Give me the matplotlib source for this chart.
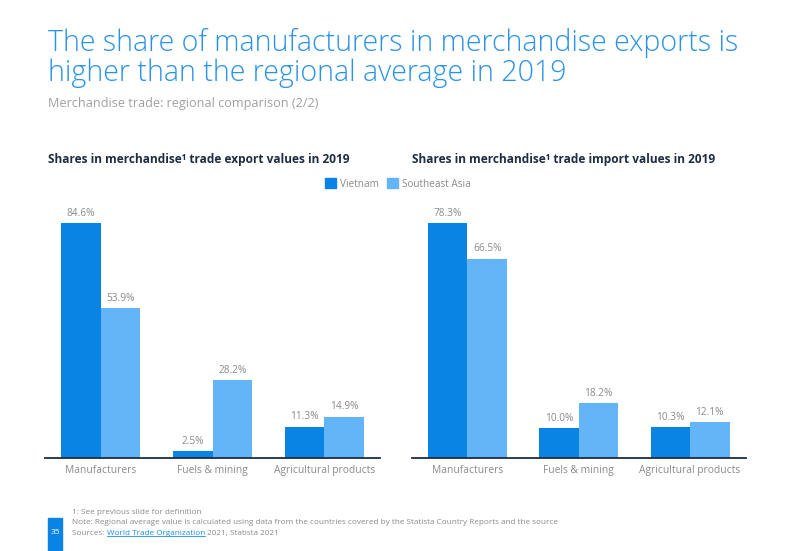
import numpy as np
import matplotlib.pyplot as plt
from matplotlib.patches import Rectangle
from matplotlib.lines import Line2D

plt.rcParams['font.family'] = ['Open Sans', 'DejaVu Sans']

categories = ['Manufacturers', 'Fuels & mining', 'Agricultural products']
export_vietnam = [84.6, 2.5, 11.3]
export_sea = [53.9, 28.2, 14.9]
import_vietnam = [78.3, 10.0, 10.3]
import_sea = [66.5, 18.2, 12.1]

c_vn = '#0a84e4'
c_sea = '#64b5f7'
gray = '#8a8a8a'
navy = '#1d2d44'

fig = plt.figure(figsize=(7.95, 5.51), dpi=100)

def panel(rect, vn, sea):
    ax = fig.add_axes(rect)
    x = np.arange(len(categories))
    w = 0.355
    b1 = ax.bar(x - w / 2, vn, w, color=c_vn)
    b2 = ax.bar(x + w / 2, sea, w, color=c_sea)
    for bars, vals in [(b1, vn), (b2, sea)]:
        for b, v in zip(bars, vals):
            ax.annotate('%.1f%%' % v, (b.get_x() + b.get_width() / 2, v),
                        xytext=(0, 3), textcoords='offset points',
                        ha='center', va='bottom', fontsize=7.3, color=gray)
    ax.set_xlim(-0.5, 2.5)
    ax.set_ylim(0, max(vn) * 1.077)
    ax.set_xticks(x)
    ax.set_xticklabels(categories, fontsize=7.4, color=gray)
    ax.tick_params(length=0, pad=5)
    ax.set_yticks([])
    for s in ['top', 'right', 'left']:
        ax.spines[s].set_visible(False)
    ax.spines['bottom'].set_color(navy)
    ax.spines['bottom'].set_linewidth(1.3)
    return ax

panel([0.0566, 0.1688, 0.4214, 0.459], export_vietnam, export_sea)
panel([0.518, 0.1688, 0.420, 0.459], import_vietnam, import_sea)

# title block
fig.text(0.060, 0.950, 'The share of manufacturers in merchandise exports is\nhigher than the regional average in 2019',
         fontsize=20.6, color='#2a92ea', va='top', ha='left', fontweight='light', linespacing=1.05)
fig.text(0.060, 0.812, 'Merchandise trade: regional comparison (2/2)', fontsize=9.1, color='#a0a0a0', va='center')

fig.text(0.060, 0.710, 'Shares in merchandise\u00b9 trade export values in 2019', fontsize=8.6, color=navy,
         fontweight='bold', va='center')
fig.text(0.518, 0.710, 'Shares in merchandise\u00b9 trade import values in 2019', fontsize=8.6, color=navy,
         fontweight='bold', va='center')

# legend
fig.legend(handles=[Rectangle((0, 0), 1, 1, color=c_vn), Rectangle((0, 0), 1, 1, color=c_sea)],
           labels=['Vietnam', 'Southeast Asia'], loc='center', bbox_to_anchor=(0.500, 0.666),
           ncol=2, frameon=False, fontsize=7.2, labelcolor=gray, handlelength=1.1, handleheight=1.1,
           handletextpad=0.4, columnspacing=0.8)

# footer
fs = 5.9
fig.text(0.091, 0.069, '1: See previous slide for definition', fontsize=fs, color=gray, va='center')
fig.text(0.091, 0.051, 'Note: Regional average value is calculated using data from the countries covered by the Statista Country Reports and the source',
         fontsize=fs, color=gray, va='center')
t1 = fig.text(0.091, 0.032, 'Sources: ', fontsize=fs, color=gray, va='center')
t2 = fig.text(0, 0, 'World Trade Organization', fontsize=fs, color='#1a8cf0', va='center')
t3 = fig.text(0, 0, ' 2021, Statista 2021', fontsize=fs, color=gray, va='center')

fig.add_artist(Rectangle((0.0604, 0.0), 0.0176, 0.06, transform=fig.transFigure, color=c_vn))
fig.text(0.0692, 0.033, '35', fontsize=6, color='white', ha='center', va='center')

fig.canvas.draw()
r = fig.canvas.get_renderer()
inv = fig.transFigure.inverted()
e1 = t1.get_window_extent(r)
t2.set_position((inv.transform((e1.x1, 0))[0], 0.032))
fig.canvas.draw()
e2 = t2.get_window_extent(r)
t3.set_position((inv.transform((e2.x1, 0))[0], 0.032))
p0 = inv.transform((e2.x0, e2.y0 + 1))
p1 = inv.transform((e2.x1, e2.y0 + 1))
fig.add_artist(Line2D([p0[0], p1[0]], [p0[1], p1[1]], color='#1a8cf0', lw=0.6, transform=fig.transFigure))

fig.savefig('out.png', dpi=100)
